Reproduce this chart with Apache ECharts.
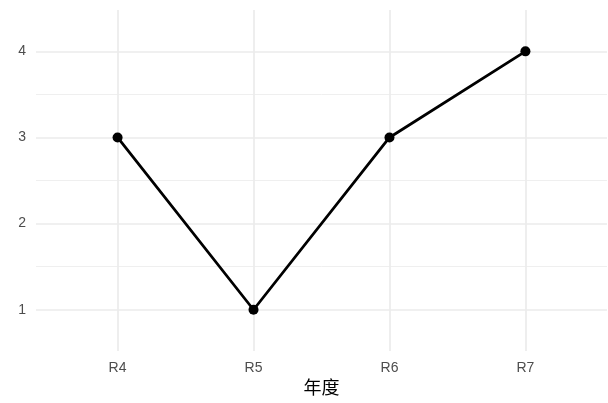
<!DOCTYPE html>
<html>
<head>
<meta charset="utf-8">
<script src="https://cdn.jsdelivr.net/npm/echarts@6/dist/echarts.min.js"></script>
<style>
html,body{margin:0;padding:0;background:#fff;}
#c{width:608px;height:403px;}
</style>
</head>
<body>
<div id="c"></div>
<script>
var categories = ['R4', 'R5', 'R6', 'R7'];
var values = [3, 1, 3, 4];
var yMajorTicks = [1, 2, 3, 4];
var yMinorTicks = [1.5, 2.5, 3.5];
var xTitle = '年度';

var FONT = '"Liberation Sans", "Noto Sans CJK SC", sans-serif';
var chart = echarts.init(document.getElementById('c'));
var seriesData = values.map(function (v, i) { return [i, v]; });
var catIdx = categories.map(function (c, i) { return i; });

chart.setOption({
  animation: false,
  backgroundColor: '#ffffff',
  grid: { left: 36, right: 1, top: 10, bottom: 51 },
  xAxis: {
    type: 'value', min: -0.6, max: categories.length - 1 + 0.6,
    name: xTitle, nameLocation: 'middle', nameGap: 28,
    nameTextStyle: { color: '#000', fontSize: 18, fontFamily: FONT },
    axisLine: { show: false },
    axisTick: { show: false, customValues: catIdx },
    axisLabel: {
      customValues: catIdx, margin: 10, color: '#4d4d4d', fontSize: 14, fontFamily: FONT,
      formatter: function (v) { return categories[Math.round(v)]; }
    },
    splitLine: { show: true, lineStyle: { color: '#ebebeb', width: 1.7 } }
  },
  yAxis: [{
    type: 'value', min: 0.52, max: 4.48,
    axisLine: { show: false },
    axisTick: { show: false, customValues: yMajorTicks },
    axisLabel: { customValues: yMajorTicks, margin: 10, color: '#4d4d4d', fontSize: 14, fontFamily: FONT },
    splitLine: { show: true, lineStyle: { color: '#ebebeb', width: 1.7 } }
  }, {
    type: 'value', min: 0.52, max: 4.48, position: 'left',
    axisLine: { show: false },
    axisTick: { show: false, customValues: yMinorTicks },
    axisLabel: { show: false, customValues: yMinorTicks },
    splitLine: { show: true, lineStyle: { color: '#efefef', width: 1 } }
  }],
  series: [{
    type: 'line', data: seriesData, yAxisIndex: 0,
    symbol: 'circle', symbolSize: 10,
    lineStyle: { color: '#000', width: 2.8 },
    itemStyle: { color: '#000' },
    z: 5
  }]
});
</script>
</body>
</html>
